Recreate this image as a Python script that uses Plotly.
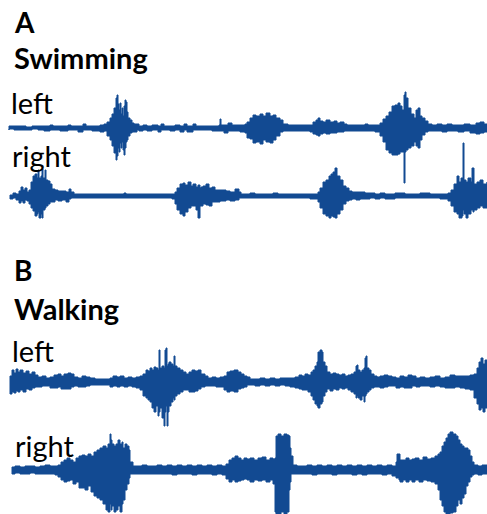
import plotly.graph_objects as go

# EMG envelopes: sample time (ms-like index), amplitude above and below the baseline
swim_left_t = [9, 14, 20, 26, 32, 38, 44, 50, 53, 60, 68, 71, 78, 83, 86, 92, 100, 104, 107, 110, 112, 114, 116, 117, 118, 119, 120, 121, 122, 123, 124, 125, 126, 127, 128, 130, 132, 134, 137, 139, 143, 147, 152, 158, 161, 164, 170, 175, 180, 184, 187, 193, 196, 205, 212, 219, 220, 221, 224, 228, 232, 240, 245, 247, 250, 253, 256, 260, 263, 266, 270, 273, 276, 280, 283, 288, 295, 303, 310, 313, 316, 318, 320, 323, 326, 330, 334, 337, 340, 344, 347, 352, 358, 365, 368, 375, 380, 383, 386, 389, 392, 395, 398, 400, 402, 404, 405, 406, 408, 411, 414, 416, 418, 420, 422, 425, 428, 432, 437, 442, 447, 452, 458, 464, 470, 476, 480, 484, 487]
swim_left_up = [2, 2, 2, 1, 2, 2, 2, 3, 2, 2, 3, 2, 2, 4, 2, 2, 3, 4, 6, 10, 14, 20, 30, 33, 24, 18, 25, 14, 20, 12, 22, 28, 26, 16, 10, 8, 5, 4, 4, 2, 3, 2, 3, 2, 4, 2, 2, 3, 2, 4, 2, 4, 2, 2, 2, 3, 9, 3, 3, 5, 3, 3, 4, 6, 10, 13, 12, 14, 12, 15, 12, 13, 10, 8, 4, 3, 3, 3, 3, 6, 8, 10, 7, 6, 8, 6, 7, 5, 6, 4, 3, 3, 3, 4, 3, 3, 5, 9, 12, 16, 22, 23, 25, 22, 18, 33, 36, 30, 20, 14, 10, 18, 20, 12, 10, 7, 4, 3, 4, 3, 4, 3, 3, 4, 3, 5, 6, 4, 4]
swim_left_down = [2, 1, 2, 2, 2, 1, 2, 3, 2, 2, 3, 2, 2, 4, 2, 2, 3, 4, 3, 8, 12, 18, 25, 32, 28, 20, 24, 15, 20, 14, 22, 27, 20, 14, 12, 8, 5, 4, 4, 2, 3, 2, 3, 2, 4, 2, 2, 3, 2, 4, 2, 4, 2, 2, 2, 3, 3, 3, 3, 5, 3, 3, 4, 5, 10, 11, 15, 14, 16, 12, 14, 15, 12, 8, 4, 3, 3, 3, 3, 4, 6, 7, 8, 6, 5, 6, 5, 5, 4, 4, 3, 3, 3, 3, 3, 3, 4, 8, 14, 22, 25, 27, 27, 26, 24, 24, 55, 24, 22, 20, 18, 14, 18, 20, 12, 7, 4, 3, 3, 3, 4, 3, 3, 4, 3, 5, 6, 5, 4]

swim_right_t = [10, 13, 16, 19, 21, 23, 25, 27, 29, 31, 33, 35, 37, 38, 39, 41, 42, 43, 45, 46, 48, 50, 52, 55, 58, 62, 66, 69, 71, 74, 80, 90, 100, 110, 120, 124, 126, 135, 145, 155, 165, 172, 175, 177, 180, 183, 185, 188, 191, 193, 196, 198, 200, 201, 203, 206, 209, 212, 215, 220, 226, 230, 235, 239, 241, 250, 255, 265, 273, 278, 290, 300, 310, 318, 320, 323, 326, 329, 331, 333, 335, 337, 340, 343, 346, 349, 352, 356, 360, 365, 370, 375, 380, 385, 395, 405, 415, 420, 430, 440, 448, 451, 454, 457, 459, 461, 462, 463, 464, 466, 468, 471, 472, 473, 474, 477, 480, 483, 487]
swim_right_up = [1, 3, 2, 5, 9, 6, 8, 4, 6, 14, 20, 22, 18, 26, 18, 20, 27, 18, 26, 16, 15, 12, 7, 6, 5, 5, 4, 7, 4, 2, 2, 2, 2, 2, 2, 3, 2, 2, 2, 2, 2, 2, 4, 8, 12, 13, 11, 14, 10, 12, 9, 11, 8, 9, 10, 12, 8, 9, 6, 6, 5, 4, 7, 4, 2, 3, 2, 2, 3, 2, 2, 2, 2, 4, 8, 14, 16, 20, 22, 24, 28, 20, 16, 10, 8, 5, 4, 4, 4, 3, 3, 2, 3, 2, 3, 2, 2, 3, 2, 2, 3, 6, 12, 20, 14, 18, 18, 53, 16, 14, 18, 14, 28, 28, 12, 14, 16, 12, 14]
swim_right_down = [1, 3, 2, 4, 7, 5, 7, 4, 5, 8, 12, 15, 20, 18, 16, 22, 18, 22, 14, 12, 10, 8, 6, 6, 4, 5, 4, 6, 3, 2, 2, 2, 2, 2, 2, 2, 2, 2, 2, 2, 2, 2, 3, 8, 14, 18, 20, 16, 12, 10, 10, 14, 22, 10, 10, 8, 9, 10, 6, 6, 5, 4, 5, 4, 2, 2, 2, 2, 2, 2, 2, 2, 2, 3, 6, 12, 18, 20, 22, 20, 21, 22, 18, 14, 8, 5, 4, 3, 4, 3, 3, 2, 3, 2, 3, 2, 2, 2, 2, 2, 3, 5, 10, 16, 18, 22, 22, 20, 14, 18, 22, 18, 14, 14, 16, 14, 12, 10, 12]

walk_left_t = [10, 12, 14, 16, 18, 20, 23, 26, 29, 32, 35, 38, 42, 46, 50, 54, 58, 61, 64, 68, 71, 74, 78, 82, 86, 90, 95, 100, 105, 110, 113, 117, 120, 124, 128, 132, 136, 140, 143, 146, 148, 150, 152, 154, 156, 158, 159, 160, 162, 164, 165, 166, 167, 168, 169, 171, 173, 174, 175, 177, 180, 183, 186, 189, 192, 195, 198, 201, 205, 208, 212, 216, 220, 224, 227, 230, 234, 238, 241, 244, 247, 250, 255, 260, 265, 270, 275, 280, 285, 290, 295, 299, 302, 305, 308, 311, 313, 315, 317, 318, 320, 322, 323, 325, 327, 330, 333, 336, 339, 342, 345, 348, 351, 354, 356, 357, 358, 360, 362, 364, 365, 366, 367, 369, 371, 374, 377, 380, 384, 388, 392, 396, 400, 404, 408, 412, 416, 420, 425, 430, 435, 440, 445, 450, 455, 460, 465, 470, 474, 477, 479, 481, 483, 485, 487]
walk_left_up = [6, 12, 9, 13, 10, 12, 9, 11, 8, 10, 7, 5, 6, 4, 5, 7, 8, 6, 8, 9, 8, 5, 4, 6, 5, 4, 3, 3, 3, 4, 6, 5, 6, 4, 5, 4, 5, 6, 8, 12, 11, 14, 12, 15, 14, 12, 32, 14, 16, 14, 32, 34, 16, 18, 20, 18, 16, 26, 16, 14, 12, 10, 8, 10, 12, 11, 12, 8, 6, 4, 5, 4, 5, 6, 10, 11, 12, 10, 8, 6, 5, 3, 3, 4, 3, 4, 3, 4, 4, 4, 5, 7, 6, 8, 7, 10, 12, 16, 20, 30, 32, 30, 20, 16, 10, 8, 9, 8, 7, 8, 6, 7, 8, 10, 16, 17, 12, 10, 12, 14, 24, 26, 14, 12, 8, 6, 5, 6, 7, 6, 5, 4, 6, 5, 7, 6, 4, 5, 4, 5, 6, 4, 5, 7, 6, 6, 6, 7, 8, 14, 20, 24, 18, 22, 20]
walk_left_down = [6, 12, 10, 11, 9, 10, 8, 10, 7, 8, 6, 5, 5, 4, 4, 6, 6, 5, 7, 7, 7, 5, 4, 5, 5, 4, 3, 3, 3, 3, 5, 4, 5, 4, 5, 4, 5, 6, 8, 14, 16, 18, 20, 26, 30, 24, 34, 30, 26, 36, 44, 30, 24, 44, 30, 24, 20, 16, 18, 14, 12, 10, 8, 8, 10, 10, 9, 7, 5, 4, 4, 4, 5, 5, 8, 10, 9, 10, 7, 6, 5, 3, 3, 4, 3, 4, 3, 4, 3, 4, 5, 6, 7, 8, 8, 10, 14, 18, 22, 24, 26, 22, 20, 14, 10, 7, 9, 7, 8, 6, 7, 6, 8, 10, 12, 16, 14, 16, 18, 14, 20, 14, 12, 10, 8, 6, 5, 5, 6, 5, 4, 4, 6, 5, 6, 6, 4, 5, 4, 4, 5, 4, 5, 6, 6, 5, 6, 7, 8, 16, 22, 28, 26, 30, 26]

walk_right_t = [12, 15, 20, 25, 30, 35, 40, 45, 50, 55, 58, 61, 64, 67, 70, 73, 76, 79, 82, 85, 88, 91, 94, 97, 100, 103, 106, 108, 110, 111, 112, 114, 116, 118, 120, 122, 123, 125, 127, 129, 130, 133, 137, 142, 147, 152, 157, 162, 167, 172, 177, 182, 187, 192, 197, 202, 207, 212, 217, 222, 226, 229, 232, 235, 238, 241, 244, 247, 250, 254, 258, 262, 266, 270, 273, 275, 276, 278, 281, 284, 287, 289, 290, 291, 293, 297, 302, 307, 312, 317, 322, 327, 332, 337, 342, 347, 352, 357, 362, 367, 372, 377, 382, 387, 392, 396, 397, 399, 400, 403, 406, 409, 412, 415, 419, 423, 427, 431, 435, 438, 440, 442, 444, 446, 448, 450, 453, 456, 458, 460, 462, 464, 466, 468, 470, 472, 474, 478, 482, 487]
walk_right_up = [3, 4, 3, 4, 4, 3, 4, 5, 4, 4, 5, 8, 10, 12, 10, 8, 12, 14, 15, 14, 16, 14, 18, 20, 22, 24, 22, 26, 36, 30, 26, 24, 26, 30, 26, 28, 22, 26, 24, 20, 8, 4, 4, 5, 4, 4, 5, 4, 5, 4, 5, 4, 5, 4, 5, 4, 5, 4, 5, 4, 6, 10, 12, 14, 12, 10, 12, 11, 12, 10, 12, 13, 10, 12, 11, 12, 34, 36, 34, 36, 35, 34, 22, 14, 5, 4, 4, 5, 4, 5, 4, 5, 4, 5, 4, 5, 4, 5, 4, 5, 4, 5, 4, 5, 4, 8, 16, 16, 10, 10, 12, 10, 11, 12, 10, 13, 11, 12, 14, 16, 18, 24, 28, 32, 36, 38, 36, 34, 30, 26, 24, 22, 22, 20, 14, 8, 5, 4, 5, 4]
walk_right_down = [3, 4, 3, 4, 4, 3, 4, 4, 4, 4, 5, 7, 10, 12, 11, 10, 14, 12, 18, 18, 20, 16, 22, 26, 28, 30, 34, 40, 42, 34, 40, 36, 42, 40, 36, 42, 34, 30, 20, 14, 8, 4, 4, 4, 4, 4, 4, 4, 4, 4, 5, 4, 4, 4, 5, 4, 4, 4, 5, 4, 5, 9, 12, 10, 12, 11, 10, 9, 10, 12, 10, 11, 10, 12, 10, 14, 42, 44, 44, 42, 44, 42, 20, 12, 4, 4, 4, 4, 4, 5, 4, 4, 4, 5, 4, 4, 4, 5, 4, 5, 4, 4, 4, 5, 4, 6, 8, 8, 10, 12, 10, 12, 10, 12, 10, 12, 10, 11, 12, 14, 20, 30, 36, 42, 44, 44, 43, 42, 36, 30, 34, 28, 24, 16, 12, 7, 5, 4, 5, 4]

panel_letters = ["A", "B"]
panel_names = ["Swimming", "Walking"]
channel_labels = ["left", "right", "left", "right"]

TRACE_COLOR = "#124a92"
W, H = 487, 514
# vertical pixel position of each channel's baseline
baselines = [128, 196, 382, 470]

series = [
    (swim_left_t, swim_left_up, swim_left_down),
    (swim_right_t, swim_right_up, swim_right_down),
    (walk_left_t, walk_left_up, walk_left_down),
    (walk_right_t, walk_right_up, walk_right_down),
]

fig = go.Figure()
for i, ((t, up, dn), base) in enumerate(zip(series, baselines)):
    yname = "y" if i == 0 else f"y{i + 1}"
    xs = list(t) + list(reversed(t))
    ys = list(up) + [-d for d in reversed(dn)]
    fig.add_trace(go.Scatter(
        x=xs + [xs[0]], y=ys + [ys[0]], mode="lines", fill="toself",
        line_shape="hv",
        fillcolor=TRACE_COLOR, line=dict(color=TRACE_COLOR, width=1),
        yaxis=yname, hoverinfo="skip", showlegend=False,
    ))
    axkey = "yaxis" if i == 0 else f"yaxis{i + 1}"
    axis = dict(range=[base - H, base], domain=[0, 1], visible=False, fixedrange=True)
    if i > 0:
        axis["overlaying"] = "y"
    fig.layout[axkey] = axis

font_name = "Lato, Open Sans, sans-serif"


def put_text(text, px, py, size, bold=False):
    fig.add_annotation(
        text=f"<b>{text}</b>" if bold else text,
        x=px / W, y=1 - py / H, xref="paper", yref="paper",
        xanchor="left", yanchor="top", showarrow=False, align="left",
        font=dict(family=font_name, size=size, color="black"), borderpad=0,
    )


# panel headings: letter line, then activity line
letter_pos = [(13, 4), (13, 252)]
name_pos = [(13, 39), (13, 290)]
for letter, name, lp, npos in zip(panel_letters, panel_names, letter_pos, name_pos):
    put_text(letter, *lp, 28, bold=True)
    put_text(name, *npos, 29, bold=True)

label_pos = [(10, 84), (11, 137), (11, 332), (14, 427)]
for text, (px, py) in zip(channel_labels, label_pos):
    put_text(text, px, py, 29)

fig.update_layout(
    width=W, height=H, margin=dict(l=0, r=0, t=0, b=0),
    paper_bgcolor="white", plot_bgcolor="white",
    xaxis=dict(range=[0, W], visible=False, fixedrange=True),
)

fig.write_html("out.html")
